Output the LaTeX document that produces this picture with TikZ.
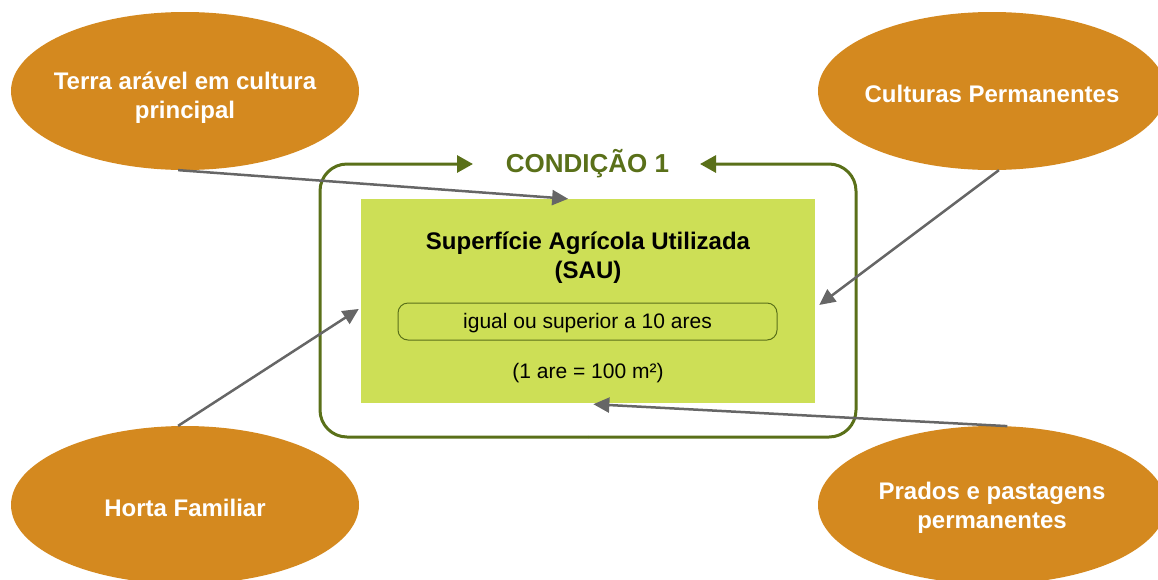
\documentclass[tikz,border=0pt]{standalone}
\usepackage{fontspec}
\setmainfont{Liberation Sans}
\usetikzlibrary{shapes.geometric,arrows.meta,calc}
\definecolor{orangeC}{HTML}{D4891F}
\definecolor{greenC}{HTML}{CDDF56}
\definecolor{oliveC}{HTML}{5A7019}
\definecolor{grayC}{HTML}{666666}
\begin{document}
\begin{tikzpicture}[x=1pt,y=-1pt,
  blob/.style={ellipse, fill=orangeC, minimum width=348pt, minimum height=158pt, inner sep=0pt},
  blobtext/.style={text=white, font=\fontsize{24}{29}\selectfont\bfseries, align=center, yshift=-3pt},
  link/.style={draw=grayC, line width=2.5pt, -{Triangle[length=16pt,width=15pt]}},
  frame/.style={draw=oliveC, line width=3pt, rounded corners=27pt, -{Triangle[length=16pt,width=17pt]}},
  saubox/.style={fill=greenC, minimum width=454pt, minimum height=204pt, inner sep=0pt},
  condbox/.style={draw=oliveC, line width=1pt, rounded corners=10pt, fill=greenC, minimum width=379pt, minimum height=37pt, inner sep=0pt, font=\fontsize{21}{25}\selectfont},
]
\useasboundingbox (0,0) rectangle (1158,579);

% ellipses
\node[blob, label={[blobtext, yshift=-4pt]center:Terra arável em cultura\\principal}] (tl) at (185,91) {};
\node[blob, label={[blobtext]center:Culturas Permanentes}] (tr) at (992,91) {};
\node[blob, label={[blobtext]center:Horta Familiar}] (bl) at (185,505) {};
\node[blob, label={[blobtext]center:Prados e pastagens\\permanentes}] (br) at (992,505) {};

% frame with title
\coordinate (fl) at (473,164);
\coordinate (fr) at (700,164);
\draw[frame] (588,437) -| (320,164) -- (fl);
\draw[frame] (588,437) -| (856,164) -- (fr);
\node[text=oliveC, font=\fontsize{26}{30}\selectfont\bfseries, anchor=base] (title) at (587.5,172) {CONDIÇÃO 1};

% inner box
\node[saubox] (sau) at (588,301) {};
\node[font=\fontsize{24}{29}\selectfont\bfseries, align=center] (sautext) at (588,257.5) {Superfície Agrícola Utilizada\\(SAU)};
\node[condbox] (cond) at (587.5,321.5) {};
\node[font=\fontsize{21}{25}\selectfont] (condtext) at (587.5,323.5) {igual ou superior a 10 ares};
\node[font=\fontsize{21}{25}\selectfont] (are) at (588,373) {(1 are = 100 m²)};

% connectors
\draw[link] (tl.-95) -- (sau.101);
\draw[link] (tr.-85) -- ([xshift=4pt]sau.-1.5);
\draw[link] (bl.95) -- ([xshift=-2pt]sau.182);
\draw[link] (br.79) -- ([yshift=-1pt]sau.-87);
\end{tikzpicture}
\end{document}
